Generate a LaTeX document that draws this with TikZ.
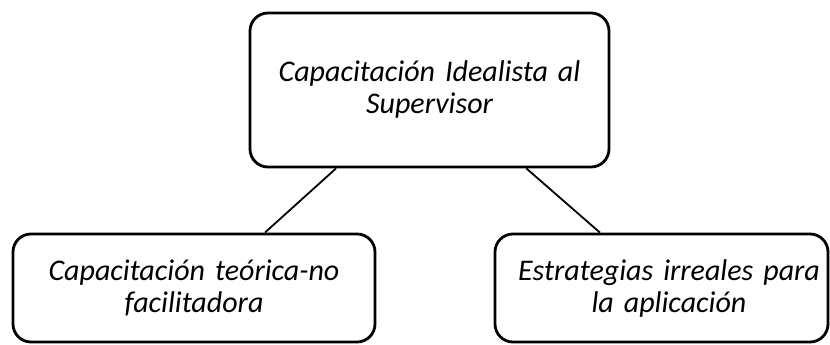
\documentclass[tikz,border=0pt]{standalone}
\usepackage{fontspec}
\setmainfont{Carlito}
\begin{document}
\begin{tikzpicture}[x=1pt,y=-1pt,
	caja/.style={draw, line width=2.8pt, rounded corners=18pt, inner sep=0pt, align=center,
		font=\itshape\fontsize{30}{32}\selectfont},
	enlace/.style={line width=1.8pt}]
\useasboundingbox (0,0) rectangle (830,345);
%top box
\node[caja, text width=359pt, minimum height=154pt] (sup) at (429.5,90) {Capacitaci\'on Idealista al\\Supervisor};
%bottom boxes
\node[caja, text width=362pt, minimum height=108pt] (teor) at (194,288) {Capacitaci\'on te\'orica-no\\facilitadora};
\node[caja, text width=333pt, minimum height=108pt] (estr) at (661.5,288) {\hspace*{15pt}Estrategias irreales para\\\hspace*{15pt}la aplicaci\'on};
%links
\draw[enlace] (sup.220) -- (teor.38);
\draw[enlace] (sup.321) -- (estr.138);
\end{tikzpicture}
\end{document}
